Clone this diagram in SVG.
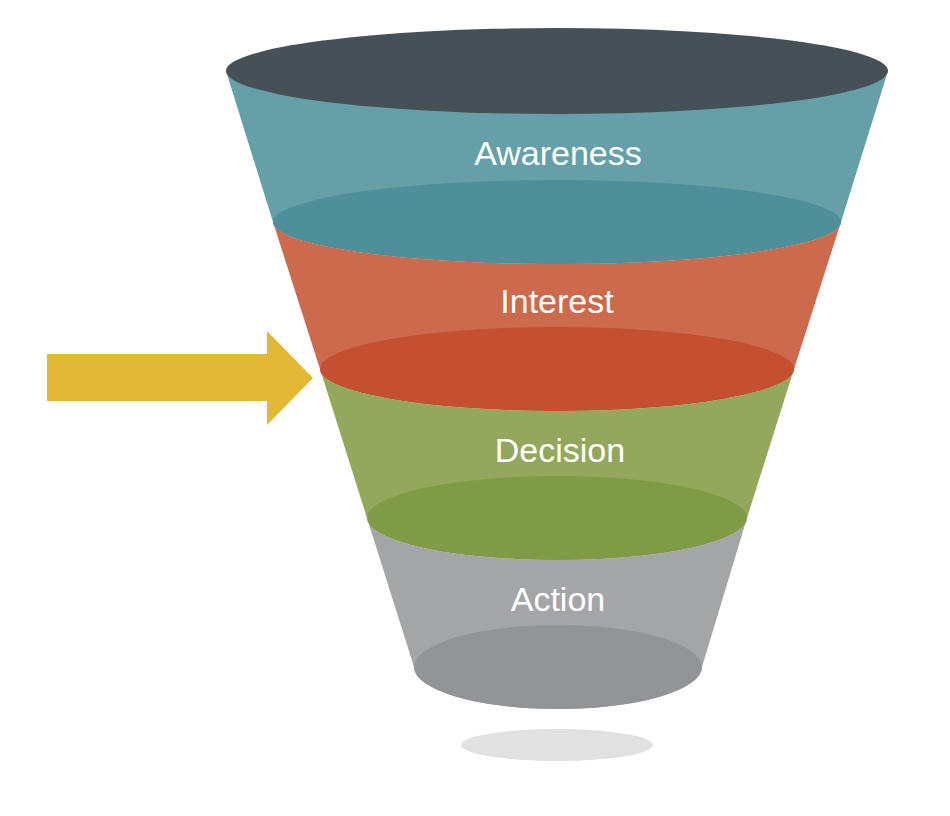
<svg xmlns="http://www.w3.org/2000/svg" width="950" height="816" viewBox="0 0 950 816">
<style>
.label{font-family:"Liberation Sans","DejaVu Sans",sans-serif;font-size:34px;fill:#ffffff;text-anchor:middle}
</style>
<rect width="950" height="816" fill="#ffffff"/>
<g id="shadow"><ellipse cx="557" cy="745" rx="96" ry="16" fill="#e1e1e1"/></g>
<g id="awareness">
<path d="M226,71 L273,222 A284 42 0 0 0 841,222 L888,71 A331 42 0 0 1 226,71 Z" fill="#65a0a8"/>
<ellipse cx="557" cy="222" rx="284" ry="42" fill="#4e8f99"/>
<text class="label" x="558" y="165">Awareness</text>
</g>
<g id="interest">
<path d="M273,222 L320,369 A237 42 0 0 0 794,369 L841,222 A284 42 0 0 1 273,222 Z" fill="#cd6a4e"/>
<ellipse cx="557" cy="369" rx="237" ry="42" fill="#c44f31"/>
<text class="label" x="557" y="313">Interest</text>
</g>
<g id="decision">
<path d="M320,369 L367,518 A190 42 0 0 0 747,518 L794,369 A237 42 0 0 1 320,369 Z" fill="#93a85c"/>
<ellipse cx="557" cy="518" rx="190" ry="42" fill="#7f9b45"/>
<text class="label" x="560" y="462">Decision</text>
</g>
<g id="action">
<path d="M367,518 L414,667 A144 42 0 0 0 702,667 L747,518 A190 42 0 0 1 367,518 Z" fill="#a4a5a7"/>
<ellipse cx="558" cy="667" rx="144" ry="42" fill="#939498"/>
<text class="label" x="558" y="611">Action</text>
</g>
<g id="funnel-top"><ellipse cx="557" cy="71" rx="331" ry="43" fill="#465157"/></g>
<g id="connectors">
<polygon points="47,354 267,354 267,331 313,378 267,425 267,401 47,401" fill="#e3b836"/>
</g>
</svg>
